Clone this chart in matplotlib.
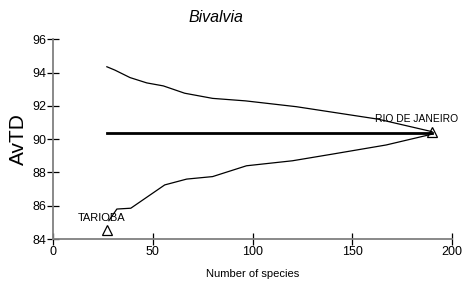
import matplotlib
matplotlib.use("Agg")
import matplotlib.pyplot as plt

plt.rcParams['font.family'] = ['Liberation Sans', 'DejaVu Sans']

upper_x = [27, 31, 38.6, 47, 55.3, 66, 80, 96.5, 122, 163, 190]
upper_y = [94.35, 94.15, 93.7, 93.38, 93.2, 92.76, 92.45, 92.3, 91.95, 91.2, 90.45]
lower_x = [28, 32, 39, 56, 67, 80, 97, 120, 140, 167, 190]
lower_y = [85.1, 85.8, 85.85, 87.25, 87.6, 87.75, 88.4, 88.7, 89.1, 89.65, 90.3]
mean_x = [27, 190]
mean_y = [90.36, 90.36]
site_names = ["TARIOBA", "RIO DE JANEIRO"]
site_x = [27, 190]
site_y = [84.56, 90.4]
label_pos = [(12.5, 85.28), (161.3, 91.2)]
label_sizes = [8, 7.4]

fig = plt.figure(figsize=(4.63, 2.83), dpi=100)
ax = fig.add_axes([53/463, 1-239/283, (452-53)/463, (239-39.3)/283])

ax.plot(upper_x, upper_y, color='black', lw=0.9)
ax.plot(lower_x, lower_y, color='black', lw=0.9)
ax.plot(mean_x, mean_y, color='black', lw=2.0)
ax.plot(site_x, site_y, linestyle='none', marker='^', markersize=7,
        markerfacecolor='none', markeredgecolor='black', markeredgewidth=0.9, clip_on=False)
for name, (lx, ly), fs in zip(site_names, label_pos, label_sizes):
    ax.text(lx, ly, name, fontsize=fs, ha='left', va='center', clip_on=False)

ax.set_xlim(0, 200)
ax.set_ylim(84, 96)
ax.set_xticks([0, 50, 100, 150, 200])
ax.set_yticks([84, 86, 88, 90, 92, 94, 96])
for s in ['top', 'right']:
    ax.spines[s].set_visible(False)
for s in ['left', 'bottom']:
    ax.spines[s].set_color('#808080')
    ax.spines[s].set_linewidth(1.3)
ax.tick_params(direction='inout', length=8, width=0.9, color='black', labelsize=9, pad=1)
ax.set_xlabel('Number of species', fontsize=8, labelpad=8)
ax.set_ylabel('AvTD', fontsize=15, labelpad=3)
fig.text(216/463, 1-17/283, 'Bivalvia', fontsize=11.5, style='italic', ha='center', va='center')

fig.savefig('out.png', dpi=100)
